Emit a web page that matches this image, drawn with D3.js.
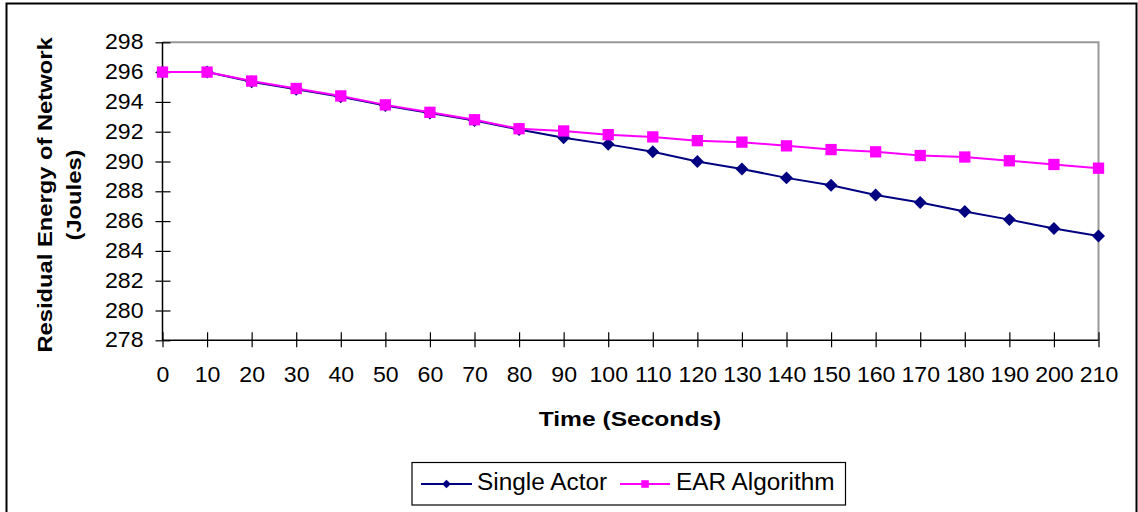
<!DOCTYPE html>
<html>
<head>
<meta charset="utf-8">
<script src="https://cdn.jsdelivr.net/npm/d3@7"></script>
<style>
  html, body { margin: 0; padding: 0; background: #fff; }
  svg { display: block; font-family: "Liberation Sans", Arial, sans-serif; }
</style>
</head>
<body>
<svg id="chart" width="1138" height="512"></svg>
<script>
// Time samples (seconds)
const times = [0, 10, 20, 30, 40, 50, 60, 70, 80, 90, 100, 110, 120, 130, 140, 150, 160, 170, 180, 190, 200, 210];
// Residual energy (Joules)
const singleActor = [296.0, 296.0, 295.35, 294.85, 294.35, 293.75, 293.25, 292.75, 292.15, 291.6, 291.15, 290.65, 290.0, 289.5, 288.9, 288.4, 287.75, 287.25, 286.65, 286.1, 285.5, 285.0];
const earAlgorithm = [296.0, 296.0, 295.4, 294.9, 294.4, 293.8, 293.3, 292.8, 292.2, 292.05, 291.8, 291.65, 291.4, 291.3, 291.05, 290.8, 290.65, 290.4, 290.3, 290.05, 289.8, 289.55];
const yTicks = [278, 280, 282, 284, 286, 288, 290, 292, 294, 296, 298];
const seriesNames = ["Single Actor", "EAR Algorithm"];

const svg = d3.select("#chart");
const plot = { left: 162.5, right: 1098.5, top: 42.3, bottom: 340.3 };

const x = d3.scalePoint().domain(times).range([plot.left, plot.right]);
const y = d3.scaleLinear().domain([278, 298]).range([plot.bottom, plot.top]);

// widen glyphs slightly, as the chart's text is set a little wide
function stretch(sel, k) {
  sel.each(function () {
    const w = this.getComputedTextLength();
    d3.select(this).attr("textLength", w * k).attr("lengthAdjust", "spacingAndGlyphs");
  });
}

// outer frame
svg.append("rect")
  .attr("x", 6.5).attr("y", 3.5).attr("width", 1130).attr("height", 520)
  .attr("fill", "none").attr("stroke", "#000").attr("stroke-width", 2);

// plot area border (top/right, grey)
svg.append("path")
  .attr("d", `M${plot.left},${plot.top}H${plot.right}V${plot.bottom}`)
  .attr("fill", "none").attr("stroke", "#999").attr("stroke-width", 2);

// y axis (ticks cross the axis line)
const yAxis = svg.append("g")
  .attr("transform", `translate(${plot.left},0)`)
  .call(d3.axisLeft(y).tickValues(yTicks).tickSize(7).tickPadding(12).tickFormat(d3.format("d")));
yAxis.select(".domain").attr("stroke", "#000").attr("stroke-width", 1.5).attr("d", `M0,${plot.top}V${plot.bottom}`);
yAxis.selectAll(".tick line").attr("stroke", "#000").attr("stroke-width", 1.2).attr("x1", -7).attr("x2", 8);
yAxis.selectAll(".tick text").attr("font-size", 22).attr("fill", "#000").attr("dy", "0.3em")
  .attr("font-family", "Liberation Sans, Arial, sans-serif");
stretch(yAxis.selectAll(".tick text"), 1.05);

// x axis
const xAxis = svg.append("g")
  .attr("transform", `translate(0,${plot.bottom})`)
  .call(d3.axisBottom(x).tickSize(7).tickPadding(19));
xAxis.select(".domain").attr("stroke", "#000").attr("stroke-width", 1.5).attr("d", `M${plot.left},0H${plot.right}`);
xAxis.selectAll(".tick line").attr("stroke", "#000").attr("stroke-width", 1.2).attr("y1", -8).attr("y2", 7);
xAxis.selectAll(".tick text").attr("font-size", 22).attr("fill", "#000")
  .attr("font-family", "Liberation Sans, Arial, sans-serif");
stretch(xAxis.selectAll(".tick text"), 1.05);

// axis titles
const xTitle = svg.append("text")
  .attr("x", 630).attr("y", 426).attr("text-anchor", "middle")
  .attr("font-size", 21).attr("font-weight", "bold").text("Time (Seconds)");
stretch(xTitle, 1.17);

const yTitle = svg.append("text")
  .attr("transform", "translate(52,195) rotate(-90)")
  .attr("text-anchor", "middle").attr("font-size", 21).attr("font-weight", "bold");
yTitle.append("tspan").attr("x", 0).attr("dy", 0).text("Residual Energy of Network");
yTitle.append("tspan").attr("x", 0).attr("dy", 29).text("(Joules)");
stretch(yTitle.selectAll("tspan"), 1.13);

// series
const series = [
  { name: seriesNames[0], values: singleActor, color: "#000080", shape: d3.symbolSquare, rot: 45, size: 84 },
  { name: seriesNames[1], values: earAlgorithm, color: "#ff00ff", shape: d3.symbolSquare, rot: 0, size: 128 }
];

const line = d3.line().x((d, i) => x(times[i])).y(d => y(d));

series.forEach(s => {
  const g = svg.append("g");
  g.append("path").datum(s.values)
    .attr("d", line).attr("fill", "none").attr("stroke", s.color).attr("stroke-width", 2);
  g.selectAll("path.m").data(s.values).enter().append("path")
    .attr("class", "m")
    .attr("transform", (d, i) => `translate(${x(times[i])},${y(d)}) rotate(${s.rot})`)
    .attr("d", d3.symbol().type(s.shape).size(s.size))
    .attr("fill", s.color);
});

// legend
const legend = svg.append("g");
legend.append("rect")
  .attr("x", 412).attr("y", 462.5).attr("width", 433.5).attr("height", 42.5)
  .attr("fill", "#fff").attr("stroke", "#000").attr("stroke-width", 1.2);
const legendItems = [
  { x0: 421, x1: 472, tx: 477 },
  { x0: 620, x1: 670, tx: 676 }
];
series.forEach((s, i) => {
  const li = legendItems[i];
  const cy = 484;
  legend.append("line").attr("x1", li.x0).attr("x2", li.x1).attr("y1", cy).attr("y2", cy)
    .attr("stroke", s.color).attr("stroke-width", 2);
  legend.append("path")
    .attr("transform", `translate(${(li.x0 + li.x1) / 2},${cy}) rotate(${s.rot})`)
    .attr("d", d3.symbol().type(s.shape).size(s.size * 0.45))
    .attr("fill", s.color);
  const t = legend.append("text").attr("x", li.tx).attr("y", cy + 6)
    .attr("font-size", 23).attr("fill", "#000").text(s.name);
  stretch(t, 1.06);
});
</script>
</body>
</html>
